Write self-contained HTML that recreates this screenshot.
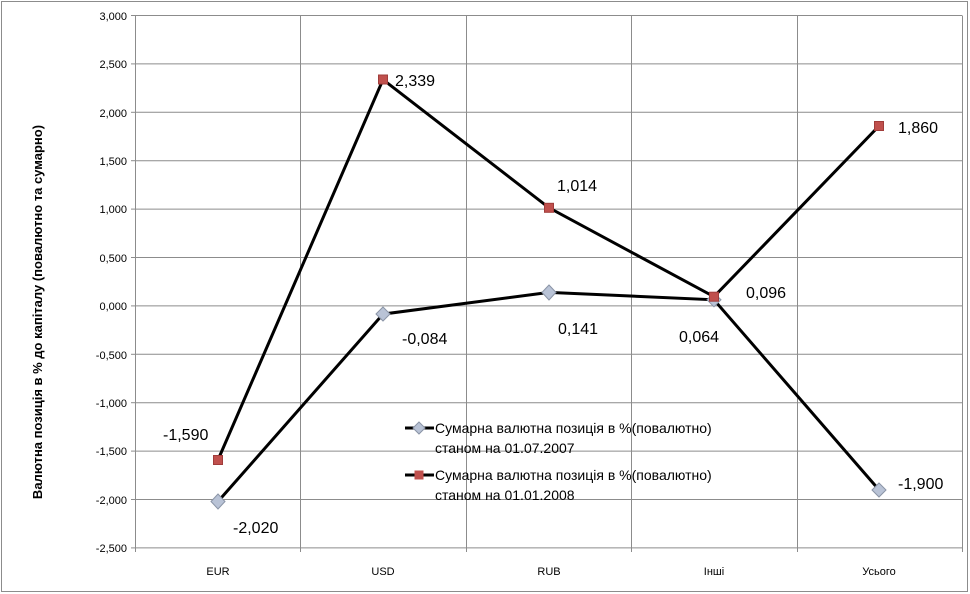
<!DOCTYPE html><html><head><meta charset="utf-8"><style>body{margin:0;background:#fff}svg{display:block}text{font-family:"Liberation Sans",sans-serif}</style></head><body>
<svg width="970" height="594" viewBox="0 0 970 594">
<rect x="1.5" y="1.5" width="966" height="590" fill="#fff" stroke="#8c8c8c"/>
<g stroke="#8c8c8c" stroke-width="1">
<line x1="135.5" y1="15.5" x2="962" y2="15.5"/><line x1="135.5" y1="63.9" x2="962" y2="63.9"/><line x1="135.5" y1="112.3" x2="962" y2="112.3"/><line x1="135.5" y1="160.7" x2="962" y2="160.7"/><line x1="135.5" y1="209.1" x2="962" y2="209.1"/><line x1="135.5" y1="257.5" x2="962" y2="257.5"/><line x1="135.5" y1="305.9" x2="962" y2="305.9"/><line x1="135.5" y1="354.3" x2="962" y2="354.3"/><line x1="135.5" y1="402.7" x2="962" y2="402.7"/><line x1="135.5" y1="451.1" x2="962" y2="451.1"/><line x1="135.5" y1="499.5" x2="962" y2="499.5"/><line x1="135.5" y1="547.9" x2="962" y2="547.9"/>
<line x1="131" y1="15.5" x2="135.5" y2="15.5"/><line x1="131" y1="63.9" x2="135.5" y2="63.9"/><line x1="131" y1="112.3" x2="135.5" y2="112.3"/><line x1="131" y1="160.7" x2="135.5" y2="160.7"/><line x1="131" y1="209.1" x2="135.5" y2="209.1"/><line x1="131" y1="257.5" x2="135.5" y2="257.5"/><line x1="131" y1="305.9" x2="135.5" y2="305.9"/><line x1="131" y1="354.3" x2="135.5" y2="354.3"/><line x1="131" y1="402.7" x2="135.5" y2="402.7"/><line x1="131" y1="451.1" x2="135.5" y2="451.1"/><line x1="131" y1="499.5" x2="135.5" y2="499.5"/><line x1="131" y1="547.9" x2="135.5" y2="547.9"/>
<line x1="135.5" y1="15.5" x2="135.5" y2="552"/><line x1="300.5" y1="15.5" x2="300.5" y2="552"/><line x1="466.5" y1="15.5" x2="466.5" y2="552"/><line x1="631.5" y1="15.5" x2="631.5" y2="552"/><line x1="797.5" y1="15.5" x2="797.5" y2="552"/><line x1="962.5" y1="15.5" x2="962.5" y2="552"/>
</g>
<g font-size="11" text-anchor="end" fill="#000">
<text x="127" y="20">3,000</text><text x="127" y="68">2,500</text><text x="127" y="117">2,000</text><text x="127" y="165">1,500</text><text x="127" y="213">1,000</text><text x="127" y="262">0,500</text><text x="127" y="310">0,000</text><text x="127" y="359">-0,500</text><text x="127" y="407">-1,000</text><text x="127" y="455">-1,500</text><text x="127" y="504">-2,000</text><text x="127" y="552">-2,500</text>
</g>
<g font-size="11" text-anchor="middle"><text x="218" y="575">EUR</text><text x="383" y="575">USD</text><text x="549" y="575">RUB</text><text x="714" y="575">Інші</text><text x="879" y="575">Усього</text></g>
<text transform="translate(42,312) rotate(-90)" font-size="13" font-weight="bold" text-anchor="middle">Валютна позиція в % до капіталу (повалютно та сумарно)</text>
<polyline points="218,501.5 383,314.1 549,292.4 714,299.8 879,489.9" fill="none" stroke="#000" stroke-width="3"/>
<polyline points="218,459.9 383,79.6 549,207.8 714,296.7 879,126" fill="none" stroke="#000" stroke-width="3"/>
<g fill="#b9c3d6" stroke="#8a94a6"><polygon points="218,494 225,501.5 218,509 211,501.5"/><polygon points="383,307 390,314 383,321 376,314"/><polygon points="549,285 556,292.4 549,300 542,292.4"/><polygon points="714,292.8 721,299.8 714,306.8 707,299.8"/><polygon points="879,483 886,490 879,497 872,490"/></g>
<g fill="#c0504d" stroke="#a03c3a"><rect x="213.5" y="455.5" width="9" height="9"/><rect x="378.5" y="75" width="9" height="9"/><rect x="544.5" y="203.3" width="9" height="9"/><rect x="709.5" y="292.2" width="9" height="9"/><rect x="874.5" y="121.5" width="9" height="9"/></g>
<g font-size="16"><text x="233" y="533">-2,020</text><text x="402" y="344">-0,084</text><text x="558" y="334">0,141</text><text x="679" y="342">0,064</text><text x="898" y="489">-1,900</text>
<text x="163" y="440">-1,590</text><text x="395" y="86">2,339</text><text x="557" y="191">1,014</text><text x="746" y="298">0,096</text><text x="898" y="133">1,860</text></g>
<line x1="405" y1="428" x2="434" y2="428" stroke="#000" stroke-width="3"/><polygon points="419,422 425,428 419,434 413,428" fill="#b9c3d6" stroke="#8a94a6"/>
<line x1="405" y1="475" x2="434" y2="475" stroke="#000" stroke-width="3"/><rect x="414.5" y="470.5" width="9" height="9" fill="#c0504d"/>
<g font-size="14"><text x="435" y="433">Сумарна валютна позиція в %(повалютно)</text><text x="435" y="453">станом на 01.07.2007</text><text x="435" y="480">Сумарна валютна позиція в %(повалютно)</text><text x="435" y="500">станом на 01.01.2008</text></g>
</svg></body></html>
